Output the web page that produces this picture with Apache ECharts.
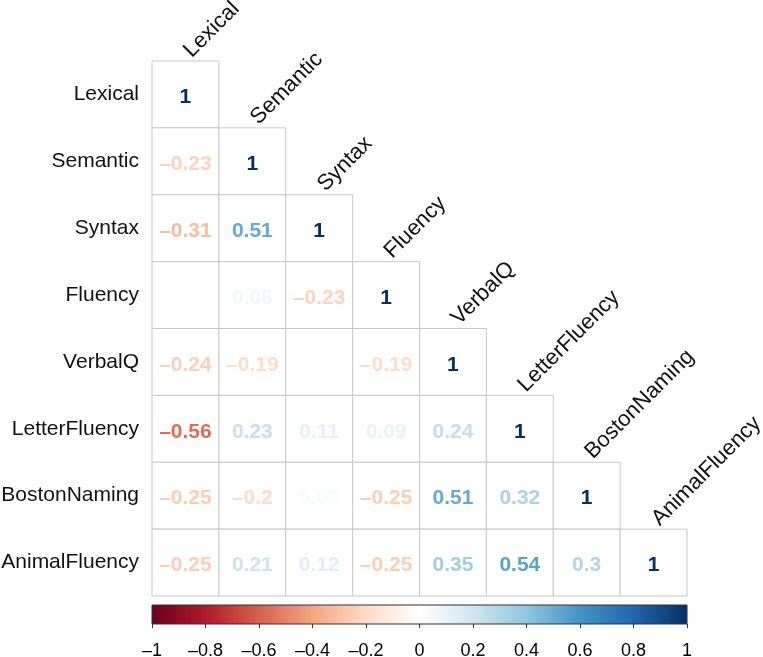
<!DOCTYPE html>
<html>
<head>
<meta charset="utf-8">
<script src="https://cdn.jsdelivr.net/npm/echarts@6/dist/echarts.min.js"></script>
<style>html,body{margin:0;padding:0;background:#fff}#c{width:763px;height:657px}</style>
</head>
<body>
<div id="c"></div>
<script>
const categories = ['Lexical','Semantic','Syntax','Fluency','VerbalQ','LetterFluency','BostonNaming','AnimalFluency'];
// lower-triangle correlation rows (null = blank cell)
const rowLexical       = [1];
const rowSemantic      = [-0.23, 1];
const rowSyntax        = [-0.31, 0.51, 1];
const rowFluency       = [null, 0.06, -0.23, 1];
const rowVerbalQ       = [-0.24, -0.19, null, -0.19, 1];
const rowLetterFluency = [-0.56, 0.23, 0.11, 0.09, 0.24, 1];
const rowBostonNaming  = [-0.25, -0.2, 0.03, -0.25, 0.51, 0.32, 1];
const rowAnimalFluency = [-0.25, 0.21, 0.12, -0.25, 0.35, 0.54, 0.3, 1];
const colorTicks = [-1, -0.8, -0.6, -0.4, -0.2, 0, 0.2, 0.4, 0.6, 0.8, 1];
const palette = ['#67001F','#B2182B','#D6604D','#F4A582','#FDDBC7','#FFFFFF','#D1E5F0','#92C5DE','#4393C3','#2166AC','#053061'];

const rows = [rowLexical,rowSemantic,rowSyntax,rowFluency,rowVerbalQ,rowLetterFluency,rowBostonNaming,rowAnimalFluency];
const cellData = [];
rows.forEach((r,i)=>r.forEach((v,j)=>cellData.push([j,i,v])));

function hex2rgb(h){return [parseInt(h.slice(1,3),16),parseInt(h.slice(3,5),16),parseInt(h.slice(5,7),16)];}
function colorFor(v){
  const t = (Math.max(-1,Math.min(1,v))+1)/2*(palette.length-1);
  const i = Math.min(Math.floor(t), palette.length-2);
  const f = t - i;
  const a = hex2rgb(palette[i]), b = hex2rgb(palette[i+1]);
  const c = a.map((x,k)=>Math.round(x+(b[k]-x)*f));
  return 'rgb('+c.join(',')+')';
}
function fmt(v){ return String(+v.toFixed(2)).replace('-', '\u2013'); }

const FONT = '"Liberation Sans", Arial, sans-serif';
const chart = echarts.init(document.getElementById('c'));
chart.setOption({
  backgroundColor:'#fff',
  animation:false,
  grid:[
    {left:152, top:61, width:535, height:535, outerBoundsMode:'none', containLabel:false},
    {left:152, top:605, width:535, height:19, outerBoundsMode:'none', containLabel:false}
  ],
  xAxis:[
    {type:'category', data:categories, gridIndex:0, show:false},
    {type:'value', gridIndex:1, min:-1, max:1, interval:0.2, position:'bottom',
     axisLine:{show:false}, splitLine:{show:false},
     axisTick:{show:true, length:4, lineStyle:{color:'#333'}},
     axisLabel:{fontSize:18, color:'#000', fontFamily:FONT, margin:18, formatter:v=>fmt(v)}}
  ],
  yAxis:[
    {type:'category', data:categories, gridIndex:0, inverse:true,
     axisLine:{show:false}, axisTick:{show:false}, splitLine:{show:false},
     axisLabel:{fontSize:21, color:'#111', fontFamily:FONT, margin:13}},
    {type:'value', gridIndex:1, min:0, max:1, show:false}
  ],
  series:[
    {
      type:'custom', xAxisIndex:0, yAxisIndex:0,
      data: cellData.map(d=>[d[0], d[1]]),
      renderItem:function(params, api){
        const d = cellData[params.dataIndex];
        const c = api.coord([d[0], d[1]]);
        const s = api.size([1,1]);
        const children = [{type:'rect', shape:{x:c[0]-s[0]/2, y:c[1]-s[1]/2, width:s[0], height:s[1]},
          style:{fill:'#fff', stroke:'#c8c8c8', lineWidth:1}}];
        if (d[2] !== null) {
          children.push({type:'text', x:c[0], y:c[1]+3, style:{text:fmt(d[2]), fill:colorFor(d[2]),
            font:'bold 21px '+FONT, align:'center', verticalAlign:'middle'}});
        }
        return {type:'group', children:children};
      }
    },
    {
      type:'custom', xAxisIndex:0, yAxisIndex:0,
      data: categories.map((c,i)=>[i,i]),
      renderItem:function(params, api){
        const i = params.dataIndex;
        const c = api.coord([i,i]);
        const s = api.size([1,1]);
        return {type:'text', x:c[0]+2, y:c[1]-s[1]/2-7, rotation:Math.PI/4,
          style:{text:categories[i], fill:'#111', font:'22px '+FONT, align:'left', verticalAlign:'middle'}};
      }
    },
    {
      type:'custom', xAxisIndex:1, yAxisIndex:1,
      data:[[colorTicks[0], 0]],
      renderItem:function(params, api){
        const p0 = api.coord([colorTicks[0], 1]);
        const p1 = api.coord([colorTicks[colorTicks.length-1], 0]);
        return {type:'rect', shape:{x:p0[0], y:p0[1], width:p1[0]-p0[0], height:p1[1]-p0[1]},
          style:{fill:new echarts.graphic.LinearGradient(0,0,1,0, palette.map((col,k)=>({offset:k/(palette.length-1), color:col}))),
                 stroke:'#333', lineWidth:1}};
      }
    }
  ]
});
</script>
</body>
</html>
